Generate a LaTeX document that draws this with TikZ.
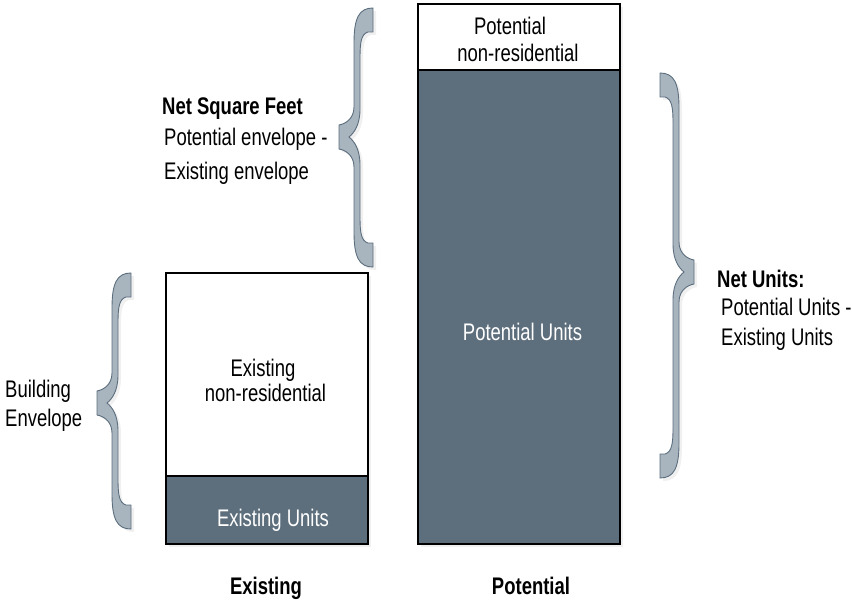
\documentclass[tikz,border=0pt]{standalone}
\usepackage{fontspec}
\setmainfont{Liberation Sans}[FakeStretch=0.77]
\usetikzlibrary{positioning,shadows}

\definecolor{slate}{RGB}{93,110,124}
\definecolor{bracefill}{RGB}{168,181,191}
\definecolor{braceline}{RGB}{92,110,126}

% brace with its tip at the origin, pointing left; #1 = rise, #2 = drop
\newcommand{\bracefig}[2]{%
  \filldraw[brace] (0,-12) .. controls (6,-13) and (15,-18) .. (15,-30)
    -- (15,-#1+35) .. controls (15,-#1+10) and (20,-#1) .. (34,-#1)
    -- (34,-#1+24) -- (29,-#1+24) .. controls (22,-#1+26) and (21,-#1+35) .. (21,-#1+50)
    -- (21,-28) .. controls (21,-12) and (15,-4) .. (10,0)
    .. controls (15,4) and (21,12) .. (21,28)
    -- (21,#2-50) .. controls (21,#2-35) and (22,#2-26) .. (29,#2-24)
    -- (34,#2-24) -- (34,#2) .. controls (20,#2) and (15,#2-10) .. (15,#2-35)
    -- (15,30) .. controls (15,18) and (6,13) .. (0,12) -- cycle;
}

\begin{document}
\begin{tikzpicture}[
  x=1pt, y=-1pt,
  font=\fontsize{24}{28}\selectfont,
  box/.style={draw=black, line width=1.6pt, rectangle, anchor=north west, inner sep=0pt,
    drop shadow={opacity=0.12, shadow xshift=3pt, shadow yshift=-3pt}},
  emptybox/.style={box, fill=white},
  unitbox/.style={box, fill=slate},
  brace/.style={fill=bracefill, draw=braceline, line width=0.9pt,
    drop shadow={opacity=0.12, shadow xshift=3pt, shadow yshift=-3pt}},
  lbl/.style={inner sep=0pt, anchor=base west},
  mid/.style={inner sep=0pt, anchor=base},
  head/.style={inner sep=0pt, font=\fontsize{24}{28}\selectfont\bfseries}
]
\useasboundingbox (0,0) rectangle (853,599);

% existing
\node[emptybox, minimum width=202pt, minimum height=203pt] (exnr) at (165,272) {};
\node[unitbox, minimum width=202pt, minimum height=68pt] (exun) at (165,475) {};
\node[mid] (exnr1) at (263,376) {Existing};
\node[mid] (exnr2) at (265.5,401) {non-residential};
\node[mid, text=white] (exunt) at (273,526) {Existing Units};
\node[head, anchor=base] (extitle) at (266,594) {Existing};

% potential
\node[emptybox, minimum width=202pt, minimum height=66pt] (ponr) at (417,3) {};
\node[unitbox, minimum width=202pt, minimum height=474pt] (poun) at (417,69) {};
\node[mid] (ponr1) at (510,35) {Potential};
\node[mid] (ponr2) at (518,62) {non-residential};
\node[mid, text=white] (pount) at (522.5,340) {Potential Units};
\node[head, anchor=base] (potitle) at (531,594) {Potential};

% braces
\begin{scope}[shift={(97,403)}]
  \bracefig{130}{126}
\end{scope}
\begin{scope}[shift={(339,137)}]
  \bracefig{129}{130}
\end{scope}
\begin{scope}[shift={(694,272)}, xscale=-1]
  \bracefig{199}{206}
\end{scope}

% labels
\node[lbl] (env1) at (5,397) {Building};
\node[lbl] (env2) at (5,426) {Envelope};

\node[head, anchor=base west] (nsf) at (162,114) {Net Square Feet};
\node[lbl] (nsf1) at (164,145) {Potential envelope -};
\node[lbl] (nsf2) at (164,179) {Existing envelope};

\node[head, anchor=base west] (nu) at (717,287) {Net Units:};
\node[lbl] (nu1) at (721,315) {Potential Units -};
\node[lbl] (nu2) at (721,345) {Existing Units};

\end{tikzpicture}
\end{document}
